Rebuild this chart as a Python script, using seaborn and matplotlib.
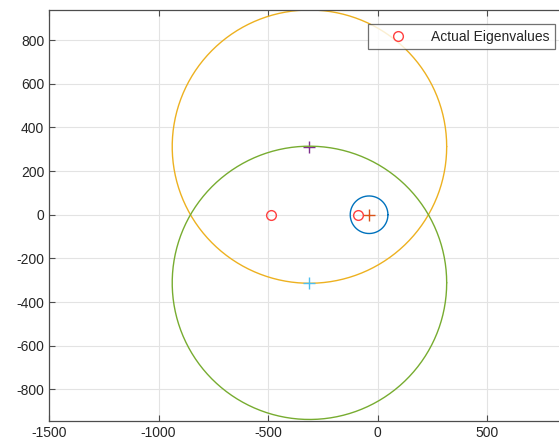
import numpy as np
import pandas as pd
import matplotlib
matplotlib.use("Agg")
import matplotlib.pyplot as plt
import seaborn as sns

# Gershgorin discs: centre (real, imag) and radius
disc_re = [-40, -312, -312]
disc_im = [0, 312, -312]
disc_r = [86, 626, 626]
disc_colors = ["#0072BD", "#EDB120", "#77AC30"]
centre_colors = ["#D95319", "#7E2F8E", "#4DBEEE"]

# actual eigenvalues
eig_re = [-488, -91]
eig_im = [0, 0]

sns.set_style("white")
plt.rcParams["font.family"] = ["Liberation Sans", "DejaVu Sans"]
plt.rcParams["axes.unicode_minus"] = False

fig = plt.figure(figsize=(5.59, 4.45), dpi=100)
ax = fig.add_axes([49 / 559, 24 / 445, 513 / 559, 411 / 445])

t = np.linspace(0, 2 * np.pi, 400)
for cx, cy, r, col, ccol in zip(disc_re, disc_im, disc_r, disc_colors, centre_colors):
    circ = pd.DataFrame({"x": cx + r * np.cos(t), "y": cy + r * np.sin(t)})
    sns.lineplot(data=circ, x="x", y="y", sort=False, estimator=None,
                 color=col, lw=1.0, ax=ax)
    ax.plot([cx], [cy], marker="+", ms=8, mew=1.0, color=ccol, ls="none")

eig = pd.DataFrame({"re": eig_re, "im": eig_im})
ax.plot(eig["re"], eig["im"], ls="none", marker="o", ms=7, mfc="none",
        mec="#ff4040", mew=1.0, label="Actual Eigenvalues")

ax.set_xlim(-1500, 840)
ax.set_ylim(-945, 938)
ax.set_xticks(np.arange(-1500, 501, 500))
ax.set_yticks(np.arange(-800, 801, 200))
ax.set_xlabel("")
ax.set_ylabel("")
ax.grid(True, color="#e3e3e3", lw=0.8)
ax.set_axisbelow(True)
for s in ax.spines.values():
    s.set_color("#4d4d4d")
    s.set_linewidth(0.9)
ax.tick_params(direction="in", length=4, width=0.8, color="#4d4d4d",
               labelsize=10, labelcolor="#262626", top=True, right=False,
               left=True, bottom=True)

leg = ax.legend(loc="upper right", bbox_to_anchor=(506 / 513, 397 / 411),
                fontsize=10, frameon=True, fancybox=False, handlelength=3.6,
                borderpad=0.4, handletextpad=0.55, borderaxespad=0)
leg.get_frame().set_edgecolor("#4d4d4d")
leg.get_frame().set_linewidth(0.9)

fig.savefig("out.png", dpi=100)
